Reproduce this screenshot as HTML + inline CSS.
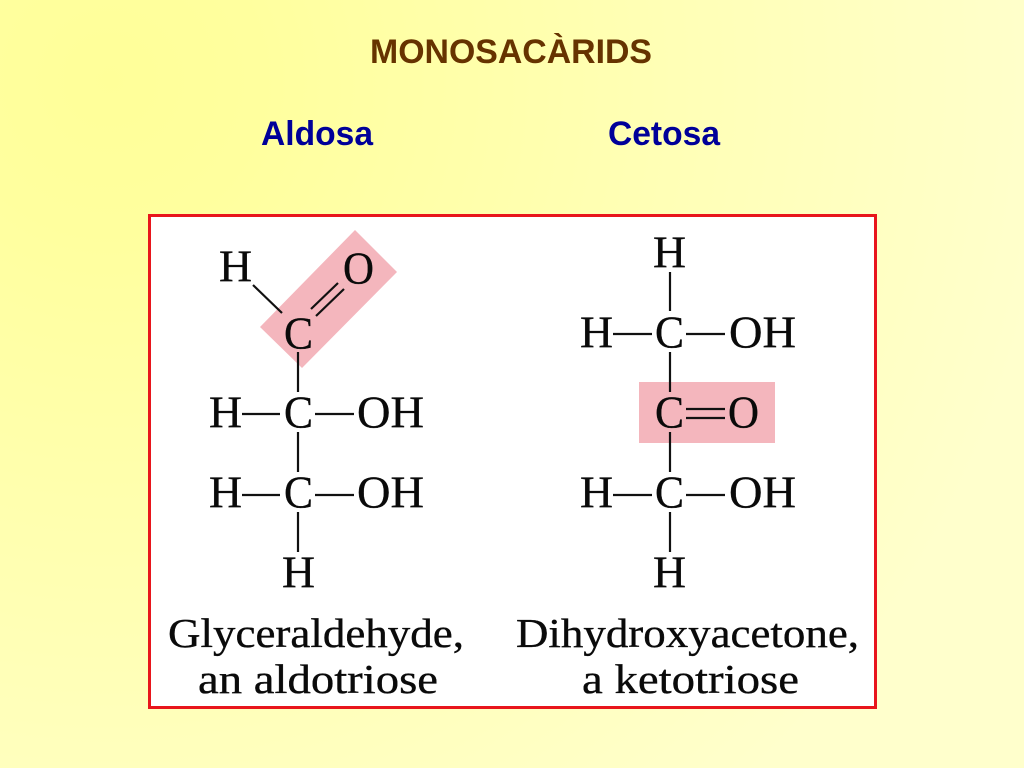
<!DOCTYPE html>
<html>
<head>
<meta charset="utf-8">
<style>
html,body{margin:0;padding:0;width:1024px;height:768px;overflow:hidden;}
body{background:radial-gradient(circle 1000px at 110px 80px,#ffff99 0%,#ffff9e 15%,#ffffcc 95%,#ffffcc 100%);}
svg{display:block;position:absolute;left:0;top:0;filter:blur(0.3px);}
.s{font-family:"Liberation Sans",sans-serif;font-weight:bold;}
.c{font-family:"Liberation Serif",serif;fill:#0a0a0a;stroke:#0a0a0a;stroke-width:0.35px;}
.a{font-size:45px;}
.t{font-size:41px;}
line{stroke:#111;stroke-width:2.2;}
</style>
</head>
<body>
<svg width="1024" height="768" viewBox="0 0 1024 768" xmlns="http://www.w3.org/2000/svg">
  <text class="s" x="370" y="63" font-size="34" fill="#663300" textLength="282" lengthAdjust="spacingAndGlyphs">MONOSACÀRIDS</text>
  <text class="s" x="261" y="145" font-size="34" fill="#000099" textLength="112" lengthAdjust="spacingAndGlyphs">Aldosa</text>
  <text class="s" x="608" y="145" font-size="34" fill="#000099" textLength="112" lengthAdjust="spacingAndGlyphs">Cetosa</text>

  <rect x="149.5" y="215.5" width="726" height="492" fill="#ffffff" stroke="#e8161c" stroke-width="3"/>

  <polygon points="355,230 397,272 302,368 260,327" fill="#f4b6bd"/>
  <rect x="639" y="382" width="136" height="61" fill="#f4b6bd"/>

  <!-- Left molecule bonds -->
  <line x1="253" y1="285" x2="282" y2="313"/>
  <line x1="311" y1="309" x2="338" y2="283"/>
  <line x1="316" y1="316" x2="344" y2="289"/>
  <line x1="298" y1="352" x2="298" y2="392"/>
  <line x1="242" y1="414" x2="280" y2="414"/>
  <line x1="315" y1="414" x2="354" y2="414"/>
  <line x1="298" y1="432" x2="298" y2="472"/>
  <line x1="242" y1="495" x2="280" y2="495"/>
  <line x1="315" y1="495" x2="354" y2="495"/>
  <line x1="298" y1="512" x2="298" y2="552"/>

  <!-- Right molecule bonds -->
  <line x1="670" y1="272" x2="670" y2="311"/>
  <line x1="613" y1="334" x2="652" y2="334"/>
  <line x1="686" y1="334" x2="725" y2="334"/>
  <line x1="670" y1="352" x2="670" y2="392"/>
  <line x1="686" y1="409" x2="725" y2="409"/>
  <line x1="686" y1="418" x2="725" y2="418"/>
  <line x1="670" y1="432" x2="670" y2="472"/>
  <line x1="613" y1="495" x2="652" y2="495"/>
  <line x1="686" y1="495" x2="725" y2="495"/>
  <line x1="670" y1="512" x2="670" y2="552"/>

  <!-- Left molecule atoms -->
  <text class="c a" x="219" y="281.5" textLength="33" lengthAdjust="spacingAndGlyphs">H</text>
  <text class="c a" x="343" y="283.5" textLength="31" lengthAdjust="spacingAndGlyphs">O</text>
  <text class="c a" x="284" y="348.5" textLength="29" lengthAdjust="spacingAndGlyphs">C</text>
  <text class="c a" x="209" y="427.5" textLength="33" lengthAdjust="spacingAndGlyphs">H</text>
  <text class="c a" x="284" y="427.5" textLength="29" lengthAdjust="spacingAndGlyphs">C</text>
  <text class="c a" x="357" y="427.5" textLength="67" lengthAdjust="spacingAndGlyphs">OH</text>
  <text class="c a" x="209" y="507.5" textLength="33" lengthAdjust="spacingAndGlyphs">H</text>
  <text class="c a" x="284" y="507.5" textLength="29" lengthAdjust="spacingAndGlyphs">C</text>
  <text class="c a" x="357" y="507.5" textLength="67" lengthAdjust="spacingAndGlyphs">OH</text>
  <text class="c a" x="282" y="587.5" textLength="33" lengthAdjust="spacingAndGlyphs">H</text>

  <!-- Right molecule atoms -->
  <text class="c a" x="653" y="267.5" textLength="33" lengthAdjust="spacingAndGlyphs">H</text>
  <text class="c a" x="580" y="347.5" textLength="33" lengthAdjust="spacingAndGlyphs">H</text>
  <text class="c a" x="655" y="347.5" textLength="29" lengthAdjust="spacingAndGlyphs">C</text>
  <text class="c a" x="729" y="347.5" textLength="67" lengthAdjust="spacingAndGlyphs">OH</text>
  <text class="c a" x="655" y="427.5" textLength="29" lengthAdjust="spacingAndGlyphs">C</text>
  <text class="c a" x="728" y="427.5" textLength="31" lengthAdjust="spacingAndGlyphs">O</text>
  <text class="c a" x="580" y="507.5" textLength="33" lengthAdjust="spacingAndGlyphs">H</text>
  <text class="c a" x="655" y="507.5" textLength="29" lengthAdjust="spacingAndGlyphs">C</text>
  <text class="c a" x="729" y="507.5" textLength="67" lengthAdjust="spacingAndGlyphs">OH</text>
  <text class="c a" x="653" y="587.5" textLength="33" lengthAdjust="spacingAndGlyphs">H</text>

  <!-- Captions -->
  <text class="c t" x="168" y="647" textLength="296" lengthAdjust="spacingAndGlyphs">Glyceraldehyde,</text>
  <text class="c t" x="198" y="693" textLength="240" lengthAdjust="spacingAndGlyphs">an aldotriose</text>
  <text class="c t" x="516" y="647" textLength="343" lengthAdjust="spacingAndGlyphs">Dihydroxyacetone,</text>
  <text class="c t" x="582" y="693" textLength="217" lengthAdjust="spacingAndGlyphs">a ketotriose</text>
</svg>
</body>
</html>
